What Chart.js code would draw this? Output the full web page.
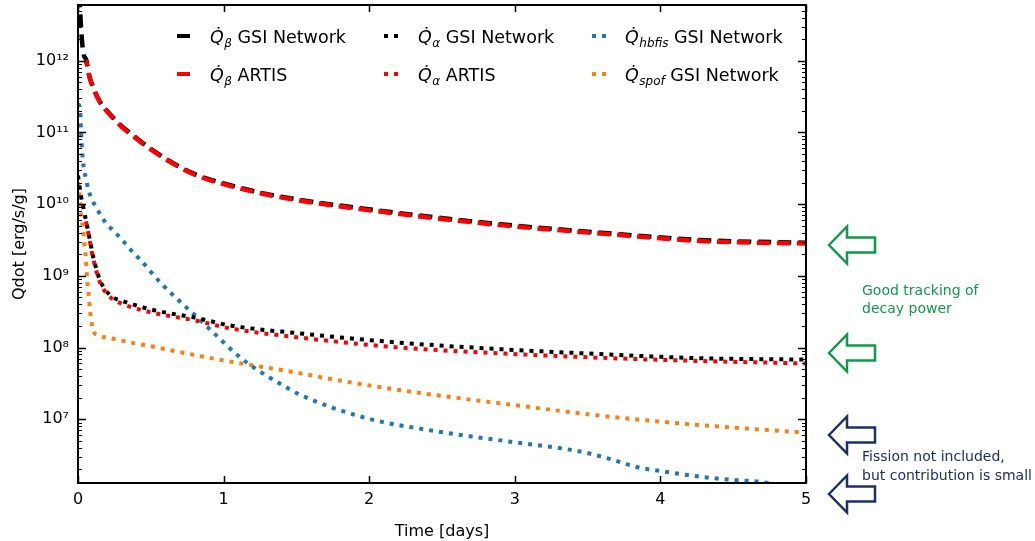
<!DOCTYPE html>
<html><head><meta charset="utf-8">
<script src="https://cdn.jsdelivr.net/npm/chart.js@4.4.1/dist/chart.umd.min.js"></script>
<style>html,body{margin:0;padding:0;background:#fff}#wrap{width:1035px;height:541px;position:relative}</style>
</head><body><div id="wrap"><canvas id="c" width="1035" height="541"></canvas></div>
<script>
// ---- data (time in days, Qdot in erg/s/g) ----
const tBetaGSI = [0, 0.014, 0.027, 0.04, 0.055, 0.08, 0.1, 0.15, 0.2, 0.3, 0.385, 0.5, 0.7, 0.84, 1.0, 1.25, 1.5, 2.21, 2.9, 3.59, 4.27, 5.0];
const qBetaGSI = [1.6e13, 5.1e12, 1.95e12, 1.2e12, 1.05e12, 5.9e11, 4.5e11, 2.7e11, 2.0e11, 1.23e11, 8.9e10, 5.9e10, 3.3e10, 2.45e10, 1.95e10, 1.45e10, 1.17e10, 7.5e9, 5.25e9, 4.0e9, 3.16e9, 2.9e9];
const tBetaARTIS = [0.055, 0.08, 0.1, 0.15, 0.2, 0.3, 0.385, 0.5, 0.7, 0.84, 1.0, 1.25, 1.5, 2.21, 2.9, 3.59, 4.27, 5.0];
const qBetaARTIS = [1.03e12, 5.8e11, 4.4e11, 2.65e11, 1.96e11, 1.2e11, 8.7e10, 5.8e10, 3.25e10, 2.4e10, 1.9e10, 1.42e10, 1.14e10, 7.3e9, 5.1e9, 3.9e9, 3.07e9, 2.82e9];
const tAlphaGSI = [0, 0.02, 0.04, 0.06, 0.08, 0.1, 0.12, 0.14, 0.16, 0.19, 0.24, 0.3, 0.36, 0.5, 0.63, 0.8, 1.04, 1.52, 2.21, 2.9, 3.59, 4.27, 5.0];
const qAlphaGSI = [2.5e10, 1.32e10, 8.3e9, 5.25e9, 3.3e9, 2.0e9, 1.38e9, 1.0e9, 7.9e8, 6.3e8, 5.0e8, 4.5e8, 4.1e8, 3.4e8, 3.0e8, 2.63e8, 2.04e8, 1.58e8, 1.17e8, 9.5e7, 8.1e7, 7.1e7, 6.8e7];
const tAlphaARTIS = [0.055, 0.08, 0.1, 0.12, 0.14, 0.16, 0.19, 0.24, 0.3, 0.36, 0.5, 0.63, 0.8, 1.04, 1.52, 2.21, 2.9, 3.59, 4.27, 5.0];
const qAlphaARTIS = [5.75e9, 3.16e9, 1.9e9, 1.29e9, 9.3e8, 7.4e8, 5.9e8, 4.7e8, 4.1e8, 3.7e8, 3.1e8, 2.75e8, 2.4e8, 1.86e8, 1.38e8, 1.0e8, 8.3e7, 7.2e7, 6.5e7, 6.0e7];
const tHbfis = [0, 0.014, 0.02, 0.027, 0.04, 0.055, 0.069, 0.09, 0.124, 0.19, 0.24, 0.29, 0.38, 0.43, 0.56, 0.71, 0.82, 0.96, 1.11, 1.23, 1.37, 1.525, 1.97, 2.44, 2.99, 3.33, 3.52, 3.65, 3.86, 4.0, 4.27, 4.53, 4.67, 5.0];
const qHbfis = [2.5e11, 2.2e11, 1.15e11, 6.0e10, 3.16e10, 2.3e10, 1.66e10, 1.23e10, 9.1e9, 5.5e9, 4.3e9, 3.4e9, 2.1e9, 1.66e9, 8.3e8, 4.2e8, 2.63e8, 1.41e8, 7.4e7, 4.9e7, 3.3e7, 2.2e7, 1.05e7, 6.9e6, 4.8e6, 3.9e6, 3.3e6, 2.8e6, 2.1e6, 1.9e6, 1.58e6, 1.41e6, 1.35e6, 1.05e6];
const tSpof = [0, 0.007, 0.014, 0.02, 0.027, 0.034, 0.041, 0.048, 0.055, 0.062, 0.069, 0.076, 0.082, 0.089, 0.1, 0.137, 0.2, 0.27, 0.34, 0.47, 0.95, 1.52, 1.75, 2.3, 2.99, 3.59, 4.27, 5.0];
const qSpof = [2.0e10, 1.66e10, 1.17e10, 7.9e9, 5.75e9, 4.5e9, 3.2e9, 2.3e9, 1.7e9, 8.9e8, 6.5e8, 4.7e8, 3.4e8, 2.6e8, 1.86e8, 1.48e8, 1.38e8, 1.29e8, 1.2e8, 1.07e8, 6.9e7, 4.4e7, 3.6e7, 2.4e7, 1.58e7, 1.12e7, 8.3e6, 6.5e6];

const xTicks = [0, 1, 2, 3, 4, 5];
const yTicks = [1e7, 1e8, 1e9, 1e10, 1e11, 1e12];
const yTickLabels = ['10\u2077', '10\u2078', '10\u2079', '10\u00b9\u2070', '10\u00b9\u00b9', '10\u00b9\u00b2'];
const legendItems = [
  {sub: '\u03b2', rest: 'GSI Network', color: '#000000', style: 'dash', col: 0, row: 0},
  {sub: '\u03b2', rest: 'ARTIS', color: '#ff0000', style: 'dash', col: 0, row: 1},
  {sub: '\u03b1', rest: 'GSI Network', color: '#000000', style: 'dot', col: 1, row: 0},
  {sub: '\u03b1', rest: 'ARTIS', color: '#ff0000', style: 'dot', col: 1, row: 1},
  {sub: 'hbfis', rest: 'GSI Network', color: '#1f77b4', style: 'dot', col: 2, row: 0},
  {sub: 'spof', rest: 'GSI Network', color: '#ff7f0e', style: 'dot', col: 2, row: 1}
];
const notes = [
  {lines: ['Good tracking of', 'decay power'], color: '#109a48'},
  {lines: ['Fission not included,', 'but contribution is small'], color: '#1b2f6b'}
];

const pts = (t, q) => t.map((v, i) => ({x: v, y: q[i]}));
const FONT = 'DejaVu Sans';

function ds(label, t, q, color, dash, offset, order, w) {
  return {label, data: pts(t, q), borderColor: color, backgroundColor: color,
    borderWidth: w, borderDash: dash, borderDashOffset: offset, pointRadius: 0,
    cubicInterpolationMode: 'monotone', borderCapStyle: 'butt', order, clip: 0, fill: false};
}

const decor = {
  id: 'decor',
  afterDraw(chart) {
    const ctx = chart.ctx, ca = chart.chartArea;
    const xs = chart.scales.x, ys = chart.scales.y;
    ctx.save();
    ctx.strokeStyle = '#000'; ctx.setLineDash([]);
    ctx.lineWidth = 2;
    ctx.strokeRect(ca.left, ca.top, ca.right - ca.left, ca.bottom - ca.top);
    ctx.lineWidth = 1.5;
    ctx.beginPath();
    xTicks.forEach(v => {
      const p = Math.round(xs.getPixelForValue(v)) + 0.5;
      ctx.moveTo(p, ca.bottom); ctx.lineTo(p, ca.bottom - 7);
      ctx.moveTo(p, ca.top); ctx.lineTo(p, ca.top + 7);
    });
    ctx.stroke();
    for (let n = 5; n <= 13; n++) {
      for (let m = 1; m <= 9; m++) {
        const v = m * Math.pow(10, n);
        if (v < ys.min || v > ys.max) continue;
        const p = Math.round(ys.getPixelForValue(v)) + 0.5;
        const len = m === 1 ? 8 : 4;
        ctx.lineWidth = m === 1 ? 1.5 : 1;
        ctx.beginPath();
        ctx.moveTo(ca.left, p); ctx.lineTo(ca.left + len, p);
        ctx.moveTo(ca.right, p); ctx.lineTo(ca.right - len, p);
        ctx.stroke();
      }
    }
    const colSample = [177, 384, 592], colText = [210, 418, 625], rowY = [36, 74];
    legendItems.forEach(it => {
      const y = rowY[it.row];
      const sx = colSample[it.col];
      ctx.strokeStyle = it.color; ctx.lineWidth = 4; ctx.lineCap = 'butt';
      if (it.style === 'dash') { ctx.setLineDash([]); ctx.beginPath(); ctx.moveTo(sx, y); ctx.lineTo(sx + 13, y); ctx.stroke(); }
      else { ctx.setLineDash([4, 6]); ctx.beginPath(); ctx.moveTo(sx, y); ctx.lineTo(sx + 15, y); ctx.stroke(); }
      ctx.setLineDash([]);
      ctx.fillStyle = '#000'; ctx.textBaseline = 'alphabetic'; ctx.textAlign = 'left';
      let x = colText[it.col];
      const base = y + 7;
      ctx.font = 'italic 17.5px "' + FONT + '"';
      ctx.fillText('Q\u0307', x, base);
      x += ctx.measureText('Q').width + 0.5;
      ctx.font = 'italic 12px "' + FONT + '"';
      ctx.fillText(it.sub, x, base + 4);
      x += ctx.measureText(it.sub).width;
      ctx.font = '17.5px "' + FONT + '"';
      x += ctx.measureText(' ').width;
      ctx.fillText(it.rest, x, base);
    });
    const arrows = [{y: 245, c: notes[0].color}, {y: 353, c: notes[0].color}, {y: 435, c: notes[1].color}, {y: 494, c: notes[1].color}];
    arrows.forEach(a => {
      ctx.strokeStyle = a.c; ctx.lineWidth = 2.5; ctx.lineJoin = 'miter';
      ctx.beginPath();
      ctx.moveTo(829, a.y);
      ctx.lineTo(847, a.y - 18.5);
      ctx.lineTo(847, a.y - 7.5);
      ctx.lineTo(875, a.y - 7.5);
      ctx.lineTo(875, a.y + 7.5);
      ctx.lineTo(847, a.y + 7.5);
      ctx.lineTo(847, a.y + 18.5);
      ctx.closePath();
      ctx.stroke();
    });
    ctx.textBaseline = 'middle'; ctx.textAlign = 'left';
    ctx.font = '14px "' + FONT + '"';
    ctx.fillStyle = notes[0].color;
    ctx.fillText(notes[0].lines[0], 862, 291);
    ctx.fillText(notes[0].lines[1], 862, 309);
    ctx.fillStyle = notes[1].color;
    ctx.fillText(notes[1].lines[0], 862, 457);
    ctx.fillText(notes[1].lines[1], 862, 476);
    ctx.restore();
  }
};

new Chart(document.getElementById('c'), {
  type: 'line',
  data: {datasets: [
    ds('Qβ ARTIS', tBetaARTIS, qBetaARTIS, '#ff0000', [13, 7], 7, 1, 4.5),
    ds('Qβ GSI Network', tBetaGSI, qBetaGSI, '#000000', [13, 7], 0, 2, 4.5),
    ds('Qα ARTIS', tAlphaARTIS, qAlphaARTIS, '#ff0000', [4, 6], 0, 3, 4),
    ds('Qα GSI Network', tAlphaGSI, qAlphaGSI, '#000000', [4, 6], 0, 4, 4),
    ds('Qhbfis GSI Network', tHbfis, qHbfis, '#1f77b4', [4, 6], 0, 5, 4),
    ds('Qspof GSI Network', tSpof, qSpof, '#ff7f0e', [4, 6], 0, 6, 4)
  ]},
  options: {
    responsive: false, animation: false, devicePixelRatio: 1,
    layout: {padding: {left: 0, top: 5, right: 229, bottom: 0}},
    plugins: {legend: {display: false}, tooltip: {enabled: false}},
    scales: {
      x: {type: 'linear', min: 0, max: 5,
        grid: {display: false, drawTicks: false}, border: {display: false},
        afterBuildTicks: s => { s.ticks = xTicks.map(v => ({value: v})); },
        ticks: {color: '#000', font: {family: FONT, size: 16}, padding: 7, callback: v => String(v)},
        title: {display: true, text: 'Time [days]', color: '#000', font: {family: FONT, size: 16}, padding: {top: 2, bottom: 0}},
        afterFit: s => { s.height = 58; s.paddingLeft = 0; s.paddingRight = 0; }
      },
      y: {type: 'logarithmic', min: 1.29e6, max: 6e12,
        grid: {display: false, drawTicks: false}, border: {display: false},
        afterBuildTicks: s => { s.ticks = yTicks.map(v => ({value: v, major: true})); },
        ticks: {color: '#000', font: {family: FONT, size: 16}, padding: 9, autoSkip: false,
          callback: (v) => { const i = yTicks.indexOf(v); return i >= 0 ? yTickLabels[i] : ''; }},
        title: {display: true, text: 'Qdot [erg/s/g]', color: '#000', font: {family: FONT, size: 16}, padding: {top: 10, bottom: 0}},
        afterFit: s => { s.width = 78; s.paddingTop = 0; s.paddingBottom = 0; }
      }
    }
  },
  plugins: [decor]
});
</script>
</body></html>
